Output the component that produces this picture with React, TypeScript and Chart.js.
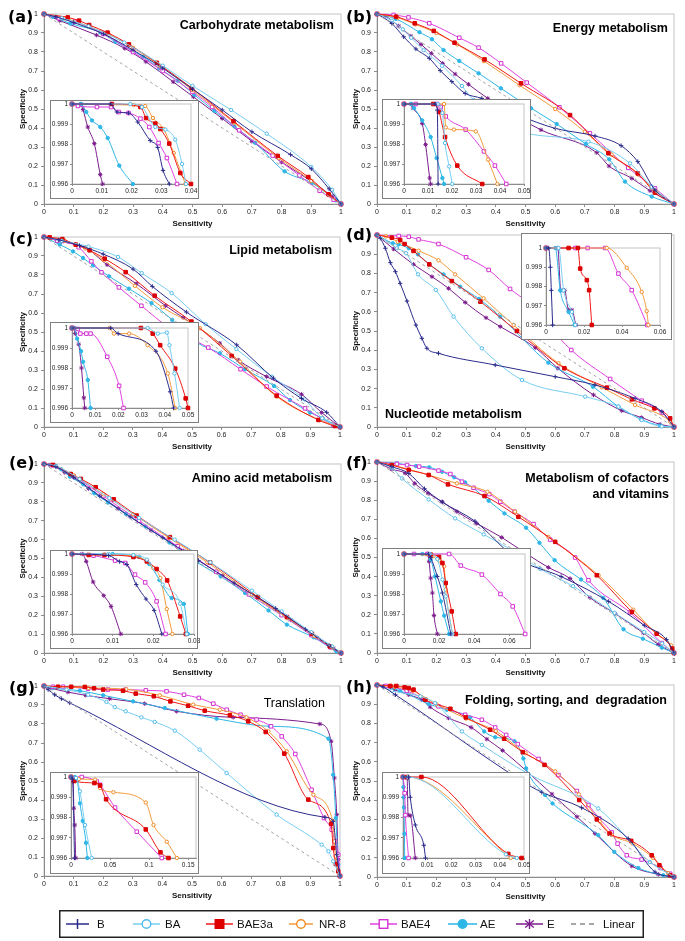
import { useEffect, useRef } from 'react';
import { Chart, registerables } from 'chart.js';

Chart.register(...registerables);
Chart.defaults.font.family = "'Liberation Sans', Arial, Helvetica, sans-serif";

type Pt = [number, number];

// ---------- tick labels ----------
const MAIN_TICKS = [0, 0.1, 0.2, 0.3, 0.4, 0.5, 0.6, 0.7, 0.8, 0.9, 1];
const INSET_Y_TICKS = [0.996, 0.997, 0.998, 0.999, 1];
const A_INSET_X_TICKS = [0, 0.01, 0.02, 0.03, 0.04];
const B_INSET_X_TICKS = [0, 0.01, 0.02, 0.03, 0.04, 0.05];
const C_INSET_X_TICKS = [0, 0.01, 0.02, 0.03, 0.04, 0.05];
const D_INSET_X_TICKS = [0, 0.02, 0.04, 0.06];
const E_INSET_X_TICKS = [0, 0.01, 0.02, 0.03];
const F_INSET_X_TICKS = [0, 0.02, 0.04, 0.06];
const G_INSET_X_TICKS = [0, 0.05, 0.1, 0.15];
const H_INSET_X_TICKS = [0, 0.01, 0.02, 0.03, 0.04, 0.05];
const INSET_X_MAX = { a: 0.04, b: 0.05, c: 0.05, d: 0.06, e: 0.03, f: 0.069, g: 0.16, h: 0.05 };

const SERIES_NAMES = ['B', 'BA', 'BAE3a', 'NR-8', 'BAE4', 'AE', 'E'];
const LINEAR_NAME = 'Linear';
const LINEAR: Pt[] = [[0, 1], [1, 0]];

// ---------- (a) Carbohydrate metabolism ----------
const A_B: Pt[] = [[0, 1], [0.04, 0.985], [0.1, 0.955], [0.2, 0.895], [0.3, 0.81], [0.4, 0.715], [0.5, 0.605], [0.6, 0.495], [0.7, 0.38], [0.83, 0.26], [0.9, 0.185], [0.96, 0.08], [1, 0]];
const A_BA: Pt[] = [[0, 1], [0.06, 0.978], [0.15, 0.935], [0.27, 0.85], [0.4, 0.728], [0.5, 0.622], [0.63, 0.495], [0.75, 0.37], [0.9, 0.195], [0.97, 0.075], [1, 0]];
const A_BAE3a: Pt[] = [[0, 1], [0.08, 0.982], [0.118, 0.965], [0.152, 0.942], [0.214, 0.902], [0.286, 0.84], [0.38, 0.743], [0.497, 0.611], [0.638, 0.436], [0.787, 0.253], [0.89, 0.142], [0.958, 0.051], [1, 0]];
const A_NR8: Pt[] = [[0, 1], [0.07, 0.978], [0.15, 0.935], [0.22, 0.89], [0.3, 0.822], [0.39, 0.728], [0.5, 0.6], [0.64, 0.428], [0.79, 0.242], [0.9, 0.122], [0.96, 0.046], [1, 0]];
const A_BAE4: Pt[] = [[0, 1], [0.05, 0.978], [0.103, 0.96], [0.2, 0.895], [0.3, 0.8], [0.4, 0.7], [0.5, 0.59], [0.566, 0.511], [0.657, 0.388], [0.77, 0.255], [0.86, 0.15], [0.928, 0.07], [0.975, 0.023], [1, 0]];
const A_AE: Pt[] = [[0, 1], [0.03, 0.985], [0.089, 0.95], [0.19, 0.903], [0.24, 0.854], [0.334, 0.775], [0.388, 0.714], [0.45, 0.649], [0.506, 0.575], [0.574, 0.49], [0.641, 0.409], [0.711, 0.322], [0.81, 0.172], [0.902, 0.111], [0.983, 0.019], [1, 0]];
const A_E: Pt[] = [[0, 1], [0.053, 0.965], [0.177, 0.889], [0.272, 0.819], [0.343, 0.749], [0.435, 0.643], [0.503, 0.564], [0.6, 0.45], [0.7, 0.33], [0.8, 0.22], [0.9, 0.12], [0.97, 0.04], [1, 0]];
const AI_B: Pt[] = [[0, 1], [0.013, 1], [0.0151, 0.9996], [0.019, 0.99955], [0.0221, 0.9991], [0.0263, 0.99817], [0.0288, 0.99783], [0.0306, 0.99668], [0.0327, 0.996]];
const AI_BA: Pt[] = [[0, 1], [0.0196, 1], [0.0235, 0.99985], [0.028, 0.99885], [0.0314, 0.99872], [0.0347, 0.99822], [0.037, 0.997], [0.0383, 0.996]];
const AI_BAE3a: Pt[] = [[0, 1], [0.0134, 1], [0.023, 0.99985], [0.0249, 0.9993], [0.028, 0.99902], [0.0297, 0.99875], [0.0327, 0.99802], [0.0364, 0.99655], [0.04, 0.996]];
const AI_NR8: Pt[] = [[0, 1], [0.0207, 0.99995], [0.0246, 0.9999], [0.0272, 0.9993], [0.0308, 0.99875], [0.0342, 0.99755], [0.0381, 0.996]];
const AI_BAE4: Pt[] = [[0, 1], [0.002, 0.9999], [0.0084, 0.99985], [0.0131, 0.99985], [0.0157, 0.9996], [0.019, 0.99955], [0.023, 0.99927], [0.026, 0.99885], [0.0291, 0.99805], [0.0319, 0.9973], [0.0353, 0.996]];
const AI_AE: Pt[] = [[0, 1], [0.003, 1], [0.0048, 0.9996], [0.0067, 0.99918], [0.0095, 0.99885], [0.012, 0.9983], [0.0159, 0.99692], [0.0205, 0.996]];
const AI_E: Pt[] = [[0, 1], [0.003, 1], [0.0037, 0.99972], [0.0053, 0.99885], [0.0075, 0.99802], [0.0095, 0.99647], [0.0103, 0.996]];

// ---------- (b) Energy metabolism ----------
const B_B: Pt[] = [[0, 1], [0.05, 0.95], [0.09, 0.88], [0.131, 0.816], [0.176, 0.767], [0.213, 0.702], [0.252, 0.644], [0.297, 0.582], [0.353, 0.556], [0.476, 0.468], [0.6, 0.398], [0.734, 0.358], [0.822, 0.307], [0.878, 0.223], [0.936, 0.074], [1, 0]];
const B_BA: Pt[] = [[0, 1], [0.05, 0.965], [0.087, 0.919], [0.115, 0.875], [0.157, 0.81], [0.219, 0.728], [0.286, 0.621], [0.325, 0.547], [0.465, 0.39], [0.712, 0.328], [0.852, 0.214], [0.925, 0.091], [1, 0]];
const B_BAE3a: Pt[] = [[0, 1], [0.064, 0.986], [0.127, 0.951], [0.191, 0.911], [0.261, 0.849], [0.362, 0.761], [0.485, 0.635], [0.65, 0.468], [0.779, 0.267], [0.878, 0.161], [0.936, 0.06], [1, 0]];
const B_NR8: Pt[] = [[0, 1], [0.07, 0.98], [0.13, 0.945], [0.2, 0.9], [0.27, 0.84], [0.36, 0.752], [0.48, 0.625], [0.6, 0.5], [0.7, 0.38], [0.79, 0.26], [0.88, 0.155], [0.94, 0.065], [1, 0]];
const B_BAE4: Pt[] = [[0, 1], [0.056, 0.995], [0.106, 0.982], [0.176, 0.951], [0.277, 0.875], [0.342, 0.823], [0.418, 0.74], [0.504, 0.639], [0.614, 0.509], [0.717, 0.372], [0.846, 0.19], [0.936, 0.082], [1, 0]];
const B_AE: Pt[] = [[0, 1], [0.064, 0.974], [0.143, 0.904], [0.185, 0.867], [0.224, 0.81], [0.277, 0.753], [0.342, 0.688], [0.417, 0.609], [0.519, 0.504], [0.605, 0.421], [0.703, 0.316], [0.782, 0.235], [0.835, 0.118], [0.925, 0.039], [1, 0]];
const B_E: Pt[] = [[0, 1], [0.028, 0.989], [0.073, 0.937], [0.114, 0.884], [0.148, 0.84], [0.183, 0.793], [0.221, 0.74], [0.263, 0.684], [0.308, 0.63], [0.373, 0.556], [0.552, 0.39], [0.74, 0.27], [0.781, 0.2], [0.858, 0.135], [0.919, 0.07], [1, 0]];
const BI_B: Pt[] = [[0, 1], [0.013, 1], [0.0139, 0.9997], [0.0142, 0.996]];
const BI_BA: Pt[] = [[0, 1], [0.014, 1], [0.016, 0.99955], [0.0171, 0.99805], [0.0188, 0.99688], [0.0201, 0.996]];
const BI_BAE3a: Pt[] = [[0, 1], [0.0122, 1], [0.0146, 0.9996], [0.0171, 0.99835], [0.0222, 0.99692], [0.0326, 0.996]];
const BI_NR8: Pt[] = [[0, 1], [0.0167, 1], [0.0174, 0.99883], [0.0208, 0.99872], [0.0299, 0.99863], [0.035, 0.99722], [0.0389, 0.996]];
const BI_BAE4: Pt[] = [[0, 1], [0.0049, 1], [0.0138, 1], [0.0153, 0.99985], [0.0174, 0.99938], [0.0257, 0.99872], [0.0333, 0.99763], [0.0379, 0.99692], [0.0426, 0.996]];
const BI_AE: Pt[] = [[0, 1], [0.003, 1], [0.0042, 0.9998], [0.0076, 0.99918], [0.0111, 0.99835], [0.0136, 0.9973], [0.016, 0.9963], [0.0167, 0.996]];
const BI_E: Pt[] = [[0, 1], [0.003, 1], [0.00375, 0.9998], [0.0076, 0.99902], [0.009, 0.99797], [0.0107, 0.9963], [0.0111, 0.996]];

// ---------- (c) Lipid metabolism ----------
const C_B: Pt[] = [[0, 1], [0.05, 0.985], [0.12, 0.955], [0.2, 0.91], [0.301, 0.831], [0.366, 0.74], [0.481, 0.605], [0.651, 0.432], [0.775, 0.257], [0.87, 0.15], [0.955, 0.077], [1, 0]];
const C_BA: Pt[] = [[0, 1], [0.06, 0.98], [0.15, 0.95], [0.25, 0.895], [0.33, 0.81], [0.431, 0.705], [0.546, 0.541], [0.65, 0.41], [0.77, 0.265], [0.88, 0.145], [0.94, 0.046], [1, 0]];
const C_BAE3a: Pt[] = [[0, 1], [0.019, 0.998], [0.062, 0.989], [0.107, 0.96], [0.154, 0.93], [0.205, 0.886], [0.276, 0.815], [0.374, 0.691], [0.498, 0.555], [0.634, 0.374], [0.786, 0.165], [0.927, 0.037], [0.983, 0.005], [1, 0]];
const C_NR8: Pt[] = [[0, 1], [0.07, 0.98], [0.14, 0.94], [0.2, 0.88], [0.307, 0.743], [0.4, 0.63], [0.527, 0.52], [0.662, 0.344], [0.786, 0.16], [0.932, 0.037], [1, 0]];
const C_BAE4: Pt[] = [[0, 1], [0.045, 0.981], [0.117, 0.946], [0.16, 0.872], [0.194, 0.814], [0.253, 0.735], [0.329, 0.638], [0.425, 0.52], [0.555, 0.418], [0.664, 0.304], [0.752, 0.213], [0.882, 0.098], [0.977, 0.011], [1, 0]];
const C_AE: Pt[] = [[0, 1], [0.053, 0.96], [0.098, 0.924], [0.132, 0.889], [0.166, 0.851], [0.22, 0.793], [0.287, 0.728], [0.363, 0.652], [0.433, 0.564], [0.515, 0.446], [0.594, 0.388], [0.679, 0.304], [0.777, 0.216], [0.831, 0.142], [0.899, 0.076], [0.941, 0.046], [1, 0]];
const C_E: Pt[] = [[0, 1], [0.06, 0.975], [0.138, 0.946], [0.213, 0.854], [0.312, 0.754], [0.411, 0.638], [0.47, 0.576], [0.594, 0.441], [0.656, 0.353], [0.752, 0.265], [0.87, 0.172], [0.938, 0.076], [1, 0]];
const CI_B: Pt[] = [[0, 1], [0.0167, 1], [0.0199, 0.99972], [0.0362, 0.99884], [0.0423, 0.99681], [0.0438, 0.996]];
const CI_BA: Pt[] = [[0, 1], [0.0326, 1], [0.037, 0.99972], [0.0409, 0.99977], [0.042, 0.99914], [0.0442, 0.99773], [0.0464, 0.996]];
const CI_BAE3a: Pt[] = [[0, 1], [0.0297, 1], [0.0348, 0.99972], [0.038, 0.99914], [0.0445, 0.99797], [0.049, 0.99648], [0.05, 0.996]];
const CI_NR8: Pt[] = [[0, 1], [0.0162, 1], [0.0181, 0.99972], [0.0246, 0.99972], [0.0326, 0.99914], [0.0413, 0.99773], [0.0445, 0.996]];
const CI_BAE4: Pt[] = [[0, 1], [0.0025, 0.99995], [0.0036, 0.99972], [0.0062, 0.99972], [0.008, 0.99972], [0.0152, 0.99856], [0.0203, 0.99711], [0.0222, 0.996]];
const CI_AE: Pt[] = [[0, 1], [0.001, 1], [0.0022, 0.99947], [0.0039, 0.99884], [0.0048, 0.99831], [0.0068, 0.9974], [0.008, 0.996]];
const CI_E: Pt[] = [[0, 1], [0.0008, 1], [0.0014, 0.99972], [0.0029, 0.99919], [0.0041, 0.998], [0.0051, 0.99651], [0.0055, 0.996]];

// ---------- (d) Nucleotide metabolism ----------
const D_B: Pt[] = [[0, 1], [0.011, 0.983], [0.028, 0.931], [0.045, 0.856], [0.062, 0.809], [0.078, 0.748], [0.101, 0.656], [0.131, 0.531], [0.151, 0.462], [0.168, 0.41], [0.207, 0.384], [0.398, 0.323], [0.6, 0.262], [0.734, 0.219], [0.869, 0.149], [0.959, 0.08], [1, 0]];
const D_BA: Pt[] = [[0, 1], [0.067, 0.931], [0.098, 0.905], [0.138, 0.795], [0.198, 0.714], [0.258, 0.575], [0.353, 0.41], [0.488, 0.245], [0.701, 0.158], [0.813, 0.106], [0.891, 0.036], [0.959, 0.003], [1, 0]];
const D_BAE3a: Pt[] = [[0, 1], [0.05, 0.986], [0.078, 0.974], [0.093, 0.953], [0.123, 0.917], [0.176, 0.847], [0.252, 0.76], [0.348, 0.653], [0.471, 0.5], [0.631, 0.306], [0.774, 0.205], [0.858, 0.144], [0.934, 0.097], [0.987, 0.045], [1, 0]];
const D_NR8: Pt[] = [[0, 1], [0.03, 0.993], [0.07, 0.965], [0.14, 0.918], [0.207, 0.868], [0.263, 0.795], [0.359, 0.67], [0.46, 0.531], [0.611, 0.332], [0.757, 0.207], [0.869, 0.115], [0.987, 0.028], [1, 0]];
const D_BAE4: Pt[] = [[0, 1], [0.073, 0.995], [0.107, 0.991], [0.14, 0.977], [0.207, 0.953], [0.3, 0.884], [0.376, 0.818], [0.448, 0.719], [0.504, 0.653], [0.654, 0.401], [0.785, 0.25], [0.891, 0.137], [0.959, 0.075], [1, 0]];
const D_AE: Pt[] = [[0, 1], [0.053, 0.957], [0.073, 0.951], [0.107, 0.931], [0.138, 0.899], [0.176, 0.847], [0.224, 0.795], [0.28, 0.731], [0.344, 0.667], [0.415, 0.575], [0.577, 0.335], [0.727, 0.21], [0.813, 0.106], [0.889, 0.04], [0.953, 0.007], [1, 0]];
const D_E: Pt[] = [[0, 1], [0.056, 0.927], [0.123, 0.847], [0.185, 0.783], [0.241, 0.722], [0.297, 0.649], [0.367, 0.569], [0.415, 0.523], [0.533, 0.413], [0.609, 0.306], [0.729, 0.167], [0.824, 0.085], [0.891, 0.049], [0.953, 0.014], [1, 0]];
const DI_B: Pt[] = [[0, 1], [0.0014, 1], [0.0023, 0.999], [0.0028, 0.9978], [0.0035, 0.996]];
const DI_BA: Pt[] = [[0, 1], [0.0066, 1], [0.0093, 0.9978], [0.0136, 0.99668], [0.0154, 0.996]];
const DI_BAE3a: Pt[] = [[0, 1], [0.0119, 1], [0.0168, 1], [0.018, 0.99893], [0.0215, 0.99833], [0.0227, 0.99781], [0.0241, 0.996]];
const DI_NR8: Pt[] = [[0, 1], [0.032, 1], [0.0425, 0.99897], [0.0504, 0.99772], [0.053, 0.99672], [0.0539, 0.996]];
const DI_BAE4: Pt[] = [[0, 1], [0.0154, 1], [0.0219, 1], [0.0311, 1], [0.0381, 0.99867], [0.0451, 0.99781], [0.0533, 0.996]];
const DI_AE: Pt[] = [[0, 1], [0.0049, 1], [0.0075, 0.9978], [0.0119, 0.99668], [0.015, 0.996]];
const DI_E: Pt[] = [[0, 1], [0.0062, 1], [0.0078, 0.9978], [0.0098, 0.9978], [0.0119, 0.99678], [0.0136, 0.99678], [0.0157, 0.996]];

// ---------- (e) Amino acid metabolism ----------
const E_B: Pt[] = [[0, 1], [0.04, 0.985], [0.1, 0.93], [0.188, 0.83], [0.29, 0.72], [0.4, 0.61], [0.52, 0.49], [0.64, 0.37], [0.78, 0.235], [0.88, 0.125], [0.96, 0.04], [1, 0]];
const E_BA: Pt[] = [[0, 1], [0.04, 0.99], [0.12, 0.92], [0.22, 0.82], [0.32, 0.715], [0.44, 0.6], [0.56, 0.48], [0.7, 0.33], [0.8, 0.22], [0.9, 0.11], [0.97, 0.035], [1, 0]];
const E_BAE3a: Pt[] = [[0, 1], [0.03, 0.995], [0.09, 0.947], [0.124, 0.921], [0.174, 0.877], [0.235, 0.813], [0.312, 0.727], [0.424, 0.613], [0.559, 0.479], [0.72, 0.296], [0.818, 0.19], [0.902, 0.102], [0.962, 0.035], [1, 0]];
const E_NR8: Pt[] = [[0, 1], [0.04, 0.99], [0.1, 0.94], [0.2, 0.84], [0.3, 0.735], [0.42, 0.61], [0.55, 0.48], [0.7, 0.31], [0.82, 0.185], [0.91, 0.09], [0.97, 0.03], [1, 0]];
const E_BAE4: Pt[] = [[0, 1], [0.03, 0.993], [0.1, 0.935], [0.2, 0.83], [0.32, 0.7], [0.45, 0.565], [0.58, 0.43], [0.69, 0.31], [0.8, 0.2], [0.9, 0.095], [0.965, 0.03], [1, 0]];
const E_AE: Pt[] = [[0, 1], [0.03, 0.995], [0.058, 0.972], [0.087, 0.933], [0.132, 0.893], [0.169, 0.845], [0.216, 0.796], [0.276, 0.736], [0.342, 0.669], [0.422, 0.585], [0.516, 0.479], [0.595, 0.405], [0.677, 0.317], [0.756, 0.225], [0.818, 0.15], [0.908, 0.083], [0.984, 0.009], [1, 0]];
const E_E: Pt[] = [[0, 1], [0.02, 0.995], [0.07, 0.955], [0.15, 0.87], [0.25, 0.765], [0.36, 0.65], [0.47, 0.54], [0.6, 0.41], [0.72, 0.29], [0.83, 0.175], [0.92, 0.08], [0.975, 0.025], [1, 0]];
const EI_B: Pt[] = [[0, 1], [0.009, 0.99992], [0.0117, 0.99962], [0.0135, 0.99947], [0.0158, 0.99847], [0.0182, 0.99775], [0.0202, 0.99718], [0.0221, 0.996]];
const EI_BA: Pt[] = [[0, 1], [0.009, 1], [0.0151, 0.99995], [0.0184, 0.99972], [0.0223, 0.99847], [0.0266, 0.99752], [0.0282, 0.996]];
const EI_BAE3a: Pt[] = [[0, 1], [0.0041, 0.99995], [0.008, 0.99995], [0.0151, 0.99985], [0.0184, 0.99963], [0.0208, 0.99925], [0.0234, 0.99868], [0.0266, 0.99688], [0.028, 0.996]];
const EI_NR8: Pt[] = [[0, 1], [0.008, 0.99995], [0.0151, 0.99992], [0.02, 0.9993], [0.0217, 0.9988], [0.0233, 0.99725], [0.0247, 0.996]];
const EI_BAE4: Pt[] = [[0, 1], [0.0053, 0.99992], [0.0106, 0.99967], [0.0131, 0.99955], [0.0155, 0.99897], [0.018, 0.99858], [0.0208, 0.99763], [0.023, 0.996]];
const EI_AE: Pt[] = [[0, 1], [0.01, 1], [0.0165, 0.99985], [0.019, 0.9995], [0.0215, 0.9987], [0.0245, 0.9978], [0.0275, 0.9975], [0.0285, 0.996]];
const EI_E: Pt[] = [[0, 1], [0.0025, 1], [0.0035, 0.99963], [0.0052, 0.9986], [0.0078, 0.99792], [0.0096, 0.99738], [0.012, 0.996]];

// ---------- (f) Metabolism of cofactors and vitamins ----------
const F_B: Pt[] = [[0, 1], [0.05, 0.975], [0.107, 0.94], [0.16, 0.86], [0.22, 0.79], [0.33, 0.69], [0.465, 0.5], [0.62, 0.4], [0.78, 0.27], [0.9, 0.145], [0.975, 0.07], [1, 0]];
const F_BA: Pt[] = [[0, 1], [0.05, 0.97], [0.084, 0.914], [0.174, 0.804], [0.263, 0.705], [0.359, 0.621], [0.463, 0.53], [0.55, 0.44], [0.66, 0.35], [0.8, 0.21], [0.9, 0.11], [0.96, 0.05], [1, 0]];
const F_BAE3a: Pt[] = [[0, 1], [0.05, 0.984], [0.107, 0.958], [0.174, 0.932], [0.239, 0.883], [0.362, 0.822], [0.476, 0.713], [0.6, 0.582], [0.74, 0.407], [0.858, 0.215], [0.942, 0.101], [0.994, 0.023], [1, 0]];
const F_NR8: Pt[] = [[0, 1], [0.05, 0.985], [0.107, 0.962], [0.174, 0.932], [0.269, 0.888], [0.372, 0.844], [0.465, 0.74], [0.577, 0.608], [0.746, 0.407], [0.863, 0.227], [0.94, 0.1], [0.99, 0.04], [1, 0]];
const F_BAE4: Pt[] = [[0, 1], [0.067, 0.99], [0.101, 0.984], [0.142, 0.976], [0.207, 0.955], [0.247, 0.937], [0.286, 0.897], [0.325, 0.865], [0.378, 0.832], [0.415, 0.792], [0.463, 0.74], [0.527, 0.675], [0.583, 0.594], [0.667, 0.5], [0.712, 0.381], [0.852, 0.212], [0.959, 0.052], [1, 0]];
const F_AE: Pt[] = [[0, 1], [0.067, 0.993], [0.131, 0.979], [0.176, 0.972], [0.219, 0.949], [0.26, 0.92], [0.297, 0.893], [0.376, 0.797], [0.429, 0.731], [0.502, 0.656], [0.547, 0.577], [0.598, 0.486], [0.687, 0.385], [0.762, 0.288], [0.83, 0.124], [0.895, 0.075], [0.959, 0.028], [1, 0]];
const F_E: Pt[] = [[0, 1], [0.05, 0.962], [0.095, 0.941], [0.127, 0.888], [0.172, 0.836], [0.219, 0.792], [0.269, 0.74], [0.336, 0.678], [0.42, 0.605], [0.502, 0.521], [0.577, 0.448], [0.65, 0.39], [0.717, 0.29], [0.802, 0.206], [0.897, 0.105], [0.947, 0.045], [1, 0]];
const FI_B: Pt[] = [[0, 1], [0.014, 1], [0.0152, 0.99983], [0.019, 0.99888], [0.0219, 0.99805], [0.0267, 0.996]];
const FI_BA: Pt[] = [[0, 1], [0.0147, 1], [0.019, 0.99975], [0.0219, 0.99872], [0.0238, 0.99788], [0.0276, 0.996]];
const FI_BAE3a: Pt[] = [[0, 1], [0.0152, 0.99997], [0.02, 0.99985], [0.0219, 0.99955], [0.0238, 0.99855], [0.0272, 0.99713], [0.0295, 0.996]];
const FI_NR8: Pt[] = [[0, 1], [0.0162, 0.99988], [0.02, 0.99967], [0.0229, 0.99938], [0.0238, 0.99822], [0.0276, 0.996]];
const FI_BAE4: Pt[] = [[0, 1], [0.0057, 1], [0.0133, 1], [0.0257, 1], [0.0324, 0.99942], [0.0444, 0.99897], [0.055, 0.998], [0.062, 0.99738], [0.0691, 0.996]];
const FI_AE: Pt[] = [[0, 1], [0.0105, 1], [0.0152, 0.99972], [0.0177, 0.99888], [0.021, 0.99763], [0.0229, 0.99692], [0.0257, 0.996]];
const FI_E: Pt[] = [[0, 1], [0.0133, 1], [0.0143, 0.99963], [0.0152, 0.9988], [0.0162, 0.99805], [0.0171, 0.99693], [0.019, 0.996]];

// ---------- (g) Translation ----------
const G_B: Pt[] = [[0, 1], [0.014, 0.981], [0.036, 0.954], [0.059, 0.933], [0.087, 0.911], [0.949, 0.309], [0.977, 0.288], [0.989, 0.112], [1, 0]];
const G_BA: Pt[] = [[0, 1], [0.076, 0.981], [0.149, 0.954], [0.211, 0.916], [0.239, 0.889], [0.276, 0.867], [0.329, 0.835], [0.374, 0.811], [0.442, 0.765], [0.526, 0.665], [0.617, 0.542], [0.786, 0.323], [0.938, 0.165], [0.961, 0.13], [0.977, 0.077], [1, 0]];
const G_BAE3a: Pt[] = [[0, 1], [0.047, 0.996], [0.092, 0.996], [0.138, 0.995], [0.169, 0.988], [0.2, 0.981], [0.267, 0.975], [0.31, 0.96], [0.371, 0.946], [0.427, 0.919], [0.487, 0.896], [0.543, 0.87], [0.628, 0.846], [0.69, 0.814], [0.749, 0.758], [0.812, 0.644], [0.893, 0.402], [0.97, 0.274], [0.977, 0.147], [0.986, 0.063], [0.994, 0.025], [1, 0]];
const G_NR8: Pt[] = [[0, 1], [0.05, 0.996], [0.15, 0.99], [0.278, 0.983], [0.391, 0.951], [0.504, 0.902], [0.594, 0.875], [0.684, 0.835], [0.758, 0.761], [0.82, 0.656], [0.91, 0.428], [0.975, 0.29], [0.981, 0.182], [0.985, 0.104], [1, 0]];
const G_BAE4: Pt[] = [[0, 1], [0.03, 0.996], [0.064, 0.996], [0.149, 0.986], [0.216, 0.981], [0.276, 0.981], [0.344, 0.977], [0.414, 0.972], [0.473, 0.954], [0.523, 0.937], [0.572, 0.907], [0.617, 0.875], [0.664, 0.849], [0.718, 0.823], [0.767, 0.788], [0.803, 0.735], [0.849, 0.642], [0.904, 0.454], [0.946, 0.305], [0.972, 0.244], [0.983, 0.182], [0.994, 0.112], [1, 0]];
const G_AE: Pt[] = [[0, 1], [0.03, 0.989], [0.121, 0.975], [0.2, 0.951], [0.301, 0.919], [0.408, 0.884], [0.583, 0.828], [0.763, 0.788], [0.961, 0.723], [0.977, 0.533], [0.986, 0.305], [0.994, 0.06], [1, 0]];
const G_E: Pt[] = [[0, 1], [0.02, 0.99], [0.081, 0.968], [0.141, 0.951], [0.222, 0.933], [0.34, 0.907], [0.448, 0.867], [0.639, 0.835], [0.932, 0.8], [0.97, 0.709], [0.981, 0.516], [0.989, 0.323], [0.994, 0.086], [1, 0]];
const GI_B: Pt[] = [[0, 1], [0.002, 0.9999], [0.0045, 0.996]];
const GI_BA: Pt[] = [[0, 1], [0.0064, 0.99995], [0.0115, 0.99929], [0.018, 0.99763], [0.0265, 0.996]];
const GI_BAE3a: Pt[] = [[0, 1], [0.004, 0.9998], [0.03, 0.9997], [0.0372, 0.99958], [0.0449, 0.9989], [0.0957, 0.99741], [0.1145, 0.99628], [0.1248, 0.996]];
const GI_NR8: Pt[] = [[0, 1], [0.01, 0.9999], [0.0308, 0.99987], [0.0372, 0.99945], [0.0543, 0.99925], [0.0957, 0.99874], [0.1056, 0.99763], [0.1226, 0.9968], [0.1355, 0.996]];
const GI_BAE4: Pt[] = [[0, 1], [0.0137, 1], [0.0329, 0.99978], [0.0372, 0.99962], [0.0564, 0.99849], [0.0842, 0.9973], [0.1162, 0.996]];
const GI_AE: Pt[] = [[0, 1], [0.005, 1], [0.0081, 0.99982], [0.0115, 0.9987], [0.015, 0.99783], [0.0192, 0.99675], [0.0209, 0.996]];
const GI_E: Pt[] = [[0, 1], [0.0028, 0.99978], [0.0036, 0.99846], [0.0048, 0.99763], [0.006, 0.996]];

// ---------- (h) Folding, sorting, and degradation ----------
const H_B: Pt[] = [[0, 1], [0.02, 0.99], [0.062, 0.949], [0.488, 0.5], [0.555, 0.441], [0.689, 0.361], [0.846, 0.2], [0.936, 0.026], [1, 0]];
const H_BA: Pt[] = [[0, 1], [0.05, 0.97], [0.146, 0.941], [0.196, 0.906], [0.286, 0.758], [0.353, 0.688], [0.51, 0.537], [0.745, 0.357], [0.919, 0.078], [1, 0]];
const H_BAE3a: Pt[] = [[0, 1], [0.045, 0.995], [0.065, 0.995], [0.093, 0.988], [0.107, 0.984], [0.123, 0.976], [0.163, 0.923], [0.247, 0.876], [0.299, 0.831], [0.381, 0.767], [0.428, 0.72], [0.491, 0.65], [0.564, 0.584], [0.681, 0.401], [0.74, 0.3], [0.783, 0.226], [0.856, 0.188], [0.925, 0.113], [0.951, 0.061], [0.987, 0.009], [1, 0]];
const H_NR8: Pt[] = [[0, 1], [0.06, 0.99], [0.12, 0.97], [0.2, 0.9], [0.3, 0.825], [0.4, 0.76], [0.5, 0.645], [0.6, 0.55], [0.68, 0.43], [0.75, 0.29], [0.79, 0.22], [0.86, 0.175], [0.93, 0.1], [0.98, 0.02], [1, 0]];
const H_BAE4: Pt[] = [[0, 1], [0.03, 0.995], [0.1, 0.97], [0.207, 0.889], [0.297, 0.845], [0.353, 0.819], [0.398, 0.779], [0.435, 0.74], [0.474, 0.692], [0.544, 0.615], [0.611, 0.531], [0.673, 0.448], [0.712, 0.375], [0.748, 0.305], [0.79, 0.232], [0.81, 0.174], [0.841, 0.113], [0.891, 0.091], [0.955, 0.047], [0.987, 0.017], [1, 0]];
const H_AE: Pt[] = [[0, 1], [0.028, 0.993], [0.078, 0.97], [0.174, 0.901], [0.235, 0.871], [0.314, 0.831], [0.361, 0.758], [0.398, 0.728], [0.463, 0.707], [0.493, 0.617], [0.502, 0.566], [0.566, 0.427], [0.591, 0.383], [0.745, 0.218], [0.799, 0.131], [0.88, 0.047], [0.964, 0.009], [1, 0]];
const H_E: Pt[] = [[0, 1], [0.022, 0.993], [0.056, 0.976], [0.107, 0.949], [0.151, 0.923], [0.179, 0.885], [0.241, 0.828], [0.317, 0.779], [0.37, 0.718], [0.423, 0.659], [0.589, 0.432], [0.673, 0.314], [0.734, 0.226], [0.858, 0.057], [0.947, 0.014], [1, 0]];
const HI_B: Pt[] = [[0, 1], [0.0023, 1], [0.003, 0.999], [0.0051, 0.99763], [0.0086, 0.99663], [0.0093, 0.996]];
const HI_BA: Pt[] = [[0, 1], [0.002, 1], [0.0425, 0.99618], [0.047, 0.996]];
const HI_BAE3a: Pt[] = [[0, 1], [0.0017, 1], [0.0076, 1], [0.0435, 0.9962], [0.049, 0.996]];
const HI_NR8: Pt[] = [[0, 1], [0.0017, 1], [0.0445, 0.996]];
const HI_BAE4: Pt[] = [[0, 1], [0.0007, 0.9992], [0.001, 0.99812], [0.0023, 0.996]];
const HI_AE: Pt[] = [[0, 1], [0.0002, 0.9995], [0.0003, 0.999], [0.0004, 0.9985], [0.0006, 0.9972], [0.0007, 0.996]];
const HI_E: Pt[] = [[0, 1], [0.0017, 0.99995], [0.0021, 0.99812], [0.003, 0.99809], [0.0051, 0.996]];

// ---------- styling ----------
const STYLE: Record<string, { line: string; mark: string; fill: string; point: string; r: number }> = {
  B: { line: '#2B2B8C', mark: '#2B2B8C', fill: '#2B2B8C', point: 'cross', r: 2.2 },
  BA: { line: '#78CEF2', mark: '#52BCEA', fill: '#FFFFFF', point: 'circle', r: 1.7 },
  BAE3a: { line: '#F21818', mark: '#D80000', fill: '#E00000', point: 'rect', r: 2.5 },
  'NR-8': { line: '#F29A3C', mark: '#EE8C28', fill: '#FFFFFF', point: 'circle', r: 1.7 },
  BAE4: { line: '#E040E0', mark: '#D232D2', fill: '#FFFFFF', point: 'rect', r: 2.5 },
  AE: { line: '#2DB6E6', mark: '#2DB6E6', fill: '#2DB6E6', point: 'circle', r: 1.7 },
  E: { line: '#7B1C8C', mark: '#7B1C8C', fill: '#7B1C8C', point: 'star', r: 2.2 },
};

type Box = [number, number, number, number];
interface TitleLine { text: string; top: number; right?: number; left?: number; bold: boolean }
interface Panel {
  key: keyof typeof INSET_X_MAX;
  label: string; labelLeft: number; labelTop: number;
  titles: TitleLine[];
  area: Box; box: Box; plot: Box;
  xTicks: number[];
  main: Pt[][]; inset: Pt[][];
}

const PANELS: Panel[] = [
  { key: 'a', label: '(a)', labelLeft: 8, labelTop: 9, titles: [{ text: 'Carbohydrate metabolism', right: 334, top: 19.4, bold: true }],
    area: [44, 14, 341, 204], box: [50, 100, 199, 199], plot: [72, 104, 191, 184], xTicks: A_INSET_X_TICKS,
    main: [A_B, A_BA, A_BAE3a, A_NR8, A_BAE4, A_AE, A_E], inset: [AI_B, AI_BA, AI_BAE3a, AI_NR8, AI_BAE4, AI_AE, AI_E] },
  { key: 'b', label: '(b)', labelLeft: 346, labelTop: 8.5, titles: [{ text: 'Energy metabolism', right: 668, top: 21.6, bold: true }],
    area: [377, 14, 674, 204], box: [382, 99, 531, 199], plot: [404, 104, 524, 184], xTicks: B_INSET_X_TICKS,
    main: [B_B, B_BA, B_BAE3a, B_NR8, B_BAE4, B_AE, B_E], inset: [BI_B, BI_BA, BI_BAE3a, BI_NR8, BI_BAE4, BI_AE, BI_E] },
  { key: 'c', label: '(c)', labelLeft: 9, labelTop: 230.5, titles: [{ text: 'Lipid metabolism', right: 332, top: 244, bold: true }],
    area: [44, 237, 340, 427], box: [50, 322, 199, 423], plot: [72, 328, 188, 408], xTicks: C_INSET_X_TICKS,
    main: [C_B, C_BA, C_BAE3a, C_NR8, C_BAE4, C_AE, C_E], inset: [CI_B, CI_BA, CI_BAE3a, CI_NR8, CI_BAE4, CI_AE, CI_E] },
  { key: 'd', label: '(d)', labelLeft: 346, labelTop: 226.5, titles: [{ text: 'Nucleotide metabolism', left: 385, top: 408.4, bold: true }],
    area: [377, 235, 674, 427], box: [521, 233, 672, 340], plot: [546, 248, 660, 325], xTicks: D_INSET_X_TICKS,
    main: [D_B, D_BA, D_BAE3a, D_NR8, D_BAE4, D_AE, D_E], inset: [DI_B, DI_BA, DI_BAE3a, DI_NR8, DI_BAE4, DI_AE, DI_E] },
  { key: 'e', label: '(e)', labelLeft: 9, labelTop: 455, titles: [{ text: 'Amino acid metabolism', right: 332, top: 471.7, bold: true }],
    area: [44, 464, 341, 653], box: [50, 550, 198, 649], plot: [72, 554, 194, 634], xTicks: E_INSET_X_TICKS,
    main: [E_B, E_BA, E_BAE3a, E_NR8, E_BAE4, E_AE, E_E], inset: [EI_B, EI_BA, EI_BAE3a, EI_NR8, EI_BAE4, EI_AE, EI_E] },
  { key: 'f', label: '(f)', labelLeft: 346, labelTop: 455, titles: [
      { text: 'Metabolism of cofactors', right: 669, top: 471.7, bold: true },
      { text: 'and vitamins', right: 669, top: 488.4, bold: true }],
    area: [377, 462, 674, 653], box: [382, 548, 531, 649], plot: [404, 554, 525, 634], xTicks: F_INSET_X_TICKS,
    main: [F_B, F_BA, F_BAE3a, F_NR8, F_BAE4, F_AE, F_E], inset: [FI_B, FI_BA, FI_BAE3a, FI_NR8, FI_BAE4, FI_AE, FI_E] },
  { key: 'g', label: '(g)', labelLeft: 9, labelTop: 680, titles: [{ text: 'Translation', right: 325, top: 696.7, bold: false }],
    area: [44, 686, 340, 876], box: [50, 772, 199, 874], plot: [71, 777, 196, 858], xTicks: G_INSET_X_TICKS,
    main: [G_B, G_BA, G_BAE3a, G_NR8, G_BAE4, G_AE, G_E], inset: [GI_B, GI_BA, GI_BAE3a, GI_NR8, GI_BAE4, GI_AE, GI_E] },
  { key: 'h', label: '(h)', labelLeft: 346, labelTop: 679, titles: [{ text: 'Folding, sorting, and  degradation', right: 667, top: 694, bold: true }],
    area: [377, 685, 674, 877], box: [382, 772, 530, 874], plot: [403, 777, 524, 858], xTicks: H_INSET_X_TICKS,
    main: [H_B, H_BA, H_BAE3a, H_NR8, H_BAE4, H_AE, H_E], inset: [HI_B, HI_BA, HI_BAE3a, HI_NR8, HI_BAE4, HI_AE, HI_E] },
];

// ---------- chart helpers ----------
const fmt = (v: number | string) => String(Math.round(Number(v) * 100000) / 100000);

const framePlugin = {
  id: 'plotFrame',
  beforeDraw(chart: any) {
    const { ctx, chartArea } = chart;
    if (!chartArea) return;
    ctx.save();
    ctx.strokeStyle = '#C4C4C4';
    ctx.lineWidth = 1;
    ctx.strokeRect(chartArea.left, chartArea.top, chartArea.right - chartArea.left, chartArea.bottom - chartArea.top);
    ctx.restore();
  },
};

function seriesDataset(name: string, pts: Pt[]) {
  const s = STYLE[name];
  return {
    label: name,
    data: pts.map(([x, y]) => ({ x, y })),
    borderColor: s.line,
    borderWidth: 1,
    backgroundColor: s.fill,
    pointStyle: s.point,
    pointRadius: s.r,
    pointBorderColor: s.mark,
    pointBackgroundColor: s.fill,
    pointBorderWidth: 1,
    cubicInterpolationMode: 'monotone',
    fill: false,
    clip: 6,
  };
}

function linearDataset() {
  return {
    label: LINEAR_NAME,
    data: LINEAR.map(([x, y]) => ({ x, y })),
    borderColor: '#A4A4A4',
    borderWidth: 1,
    borderDash: [3, 3],
    pointRadius: 0,
    fill: false,
  };
}

function makeAxis(o: { min: number; max: number; ticks: number[]; size: number; fontSize: number; tickLen: number; pad: number; horizontal: boolean; title?: string; titlePad?: any }) {
  return {
    type: 'linear',
    min: o.min,
    max: o.max,
    afterBuildTicks: (s: any) => { s.ticks = o.ticks.map((v) => ({ value: v })); },
    afterFit: (s: any) => {
      if (o.horizontal) s.height = o.size; else s.width = o.size;
      s.paddingLeft = 0; s.paddingRight = 0; s.paddingTop = 0; s.paddingBottom = 0;
    },
    ticks: { autoSkip: false, maxRotation: 0, minRotation: 0, padding: o.pad, color: '#222', font: { size: o.fontSize }, callback: (v: any) => fmt(v) },
    grid: { display: true, drawOnChartArea: false, drawTicks: true, tickLength: o.tickLen, color: '#8C8C8C', lineWidth: 1 },
    border: { display: true, color: '#8C8C8C', width: 1 },
    title: o.title
      ? { display: true, text: o.title, color: '#111', font: { size: 8, weight: 'bold' }, padding: o.titlePad }
      : { display: false },
  };
}

const MAIN_Y_W = 34, MAIN_X_H = 28, MAIN_PAD_T = 6, MAIN_PAD_R = 5;
const INSET_M = 8;

function mainConfig(p: Panel): any {
  return {
    type: 'line',
    data: { datasets: [linearDataset(), ...SERIES_NAMES.map((n, i) => seriesDataset(n, p.main[i]))] },
    options: {
      animation: false, responsive: false, maintainAspectRatio: false, events: [],
      layout: { padding: { left: 0, top: MAIN_PAD_T, right: MAIN_PAD_R, bottom: 0 } },
      plugins: { legend: { display: false }, tooltip: { enabled: false } },
      scales: {
        x: makeAxis({ min: 0, max: 1, ticks: MAIN_TICKS, size: MAIN_X_H, fontSize: 7, tickLen: 3, pad: 1, horizontal: true, title: 'Sensitivity', titlePad: { top: 0, bottom: 3 } }),
        y: makeAxis({ min: 0, max: 1, ticks: MAIN_TICKS, size: MAIN_Y_W, fontSize: 7, tickLen: 3, pad: 3, horizontal: false, title: 'Specificity', titlePad: { top: 8, bottom: 0 } }),
      },
    },
    plugins: [framePlugin],
  };
}

function insetConfig(p: Panel): any {
  const [bl, bt, br, bb] = p.box;
  const [pl, pt, pr, pb] = p.plot;
  return {
    type: 'line',
    data: { datasets: SERIES_NAMES.map((n, i) => seriesDataset(n, p.inset[i])) },
    options: {
      animation: false, responsive: false, maintainAspectRatio: false, events: [],
      layout: { padding: { left: 0, top: pt - (bt - INSET_M), right: br + INSET_M - pr, bottom: 0 } },
      plugins: { legend: { display: false }, tooltip: { enabled: false } },
      scales: {
        x: makeAxis({ min: 0, max: INSET_X_MAX[p.key], ticks: p.xTicks, size: bb + INSET_M - pb, fontSize: 6.5, tickLen: 2, pad: 1, horizontal: true }),
        y: makeAxis({ min: 0.996, max: 1, ticks: INSET_Y_TICKS, size: pl - (bl - INSET_M), fontSize: 6.5, tickLen: 2, pad: 2, horizontal: false }),
      },
    },
    plugins: [framePlugin],
  };
}

function ChartCanvas({ make, left, top, width, height }: { make: () => any; left: number; top: number; width: number; height: number }) {
  const ref = useRef<HTMLCanvasElement>(null);
  useEffect(() => {
    const chart = new Chart(ref.current as HTMLCanvasElement, make());
    return () => chart.destroy();
  }, []);
  return <canvas ref={ref} width={width} height={height} style={{ position: 'absolute', left, top, width, height }} />;
}

function PanelView({ p }: { p: Panel }) {
  const [l, t, r, b] = p.area;
  const [bl, bt, br, bb] = p.box;
  return (
    <>
      <ChartCanvas make={() => mainConfig(p)} left={l - MAIN_Y_W} top={t - MAIN_PAD_T} width={r - l + MAIN_Y_W + MAIN_PAD_R} height={b - t + MAIN_PAD_T + MAIN_X_H} />
      <div style={{ position: 'absolute', left: bl, top: bt, width: br - bl, height: bb - bt, border: '1px solid #7F7F7F', background: '#fff', boxSizing: 'border-box' }} />
      <ChartCanvas make={() => insetConfig(p)} left={bl - INSET_M} top={bt - INSET_M} width={br - bl + 2 * INSET_M} height={bb - bt + 2 * INSET_M} />
      <div style={{ position: 'absolute', left: p.labelLeft, top: p.labelTop, font: "bold 16px 'DejaVu Sans', Verdana, sans-serif", lineHeight: '16px', color: '#000', whiteSpace: 'pre' }}>{p.label}</div>
      {p.titles.map((tl, i) => (
        <div key={i} style={{
          position: 'absolute', top: tl.top,
          ...(tl.right !== undefined ? { right: 685 - tl.right, textAlign: 'right' as const } : { left: tl.left }),
          font: `${tl.bold ? 'bold ' : ''}12.5px 'Liberation Sans', Arial, sans-serif`, lineHeight: '12.5px', color: '#000', whiteSpace: 'pre',
        }}>{tl.text}</div>
      ))}
    </>
  );
}

const LEGEND_POS = [
  { name: 'B', x1: 66, x2: 89, tx: 97 },
  { name: 'BA', x1: 133, x2: 160, tx: 165 },
  { name: 'BAE3a', x1: 206, x2: 233, tx: 237 },
  { name: 'NR-8', x1: 289, x2: 313, tx: 319 },
  { name: 'BAE4', x1: 370, x2: 397, tx: 401 },
  { name: 'AE', x1: 448, x2: 477, tx: 480 },
  { name: 'E', x1: 516, x2: 543, tx: 547 },
  { name: LINEAR_NAME, x1: 571, x2: 597, tx: 603 },
];

function Legend() {
  const L = 59, T = 910, W = 585, H = 28, cy = 14;
  return (
    <>
      <svg width={W} height={H} style={{ position: 'absolute', left: L, top: T }}>
        <rect x={0.75} y={0.75} width={W - 1.5} height={H - 1.5} fill="#fff" stroke="#222" strokeWidth={1.5} />
        {LEGEND_POS.map((it) => {
          const x1 = it.x1 - L, x2 = it.x2 - L, cx = (x1 + x2) / 2;
          if (it.name === LINEAR_NAME) {
            return <line key={it.name} x1={x1} y1={cy} x2={x2} y2={cy} stroke="#8A8A8A" strokeWidth={1.5} strokeDasharray="5,4" />;
          }
          const s = STYLE[it.name];
          let marker: any = null;
          if (s.point === 'cross') marker = <line x1={cx} y1={cy - 5} x2={cx} y2={cy + 5} stroke={s.mark} strokeWidth={1.5} />;
          else if (s.point === 'circle') marker = <circle cx={cx} cy={cy} r={4.3} fill={s.fill} stroke={s.mark} strokeWidth={1.4} />;
          else if (s.point === 'rect') marker = <rect x={cx - 4.3} y={cy - 4.3} width={8.6} height={8.6} fill={s.fill} stroke={s.mark} strokeWidth={1.4} />;
          else if (s.point === 'star') marker = (
            <g stroke={s.mark} strokeWidth={1.4}>
              <line x1={cx} y1={cy - 5} x2={cx} y2={cy + 5} />
              <line x1={cx - 4.3} y1={cy - 3.5} x2={cx + 4.3} y2={cy + 3.5} />
              <line x1={cx - 4.3} y1={cy + 3.5} x2={cx + 4.3} y2={cy - 3.5} />
            </g>
          );
          return (
            <g key={it.name}>
              <line x1={x1} y1={cy} x2={x2} y2={cy} stroke={s.line} strokeWidth={1.5} />
              {marker}
            </g>
          );
        })}
      </svg>
      {LEGEND_POS.map((it) => (
        <div key={it.name} style={{ position: 'absolute', left: it.tx, top: T + cy - 6, font: "11.5px 'Liberation Sans', Arial, sans-serif", lineHeight: '12px', color: '#111', whiteSpace: 'pre' }}>{it.name}</div>
      ))}
    </>
  );
}

export default function App() {
  return (
    <div style={{ position: 'absolute', left: 0, top: 0, width: 685, height: 941, background: '#fff', overflow: 'hidden' }}>
      {PANELS.map((p) => <PanelView key={p.key} p={p} />)}
      <Legend />
    </div>
  );
}
